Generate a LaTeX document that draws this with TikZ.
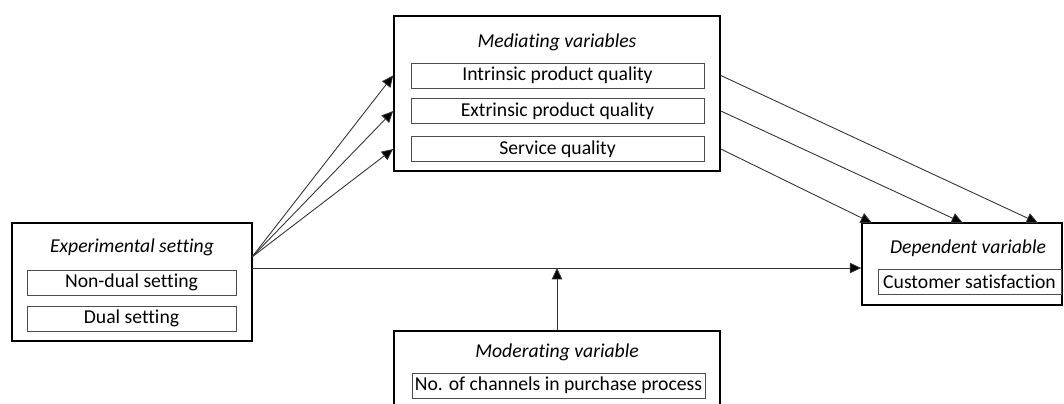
\documentclass[tikz,border=0pt]{standalone}
\usepackage{fontspec}
\setmainfont{Carlito}[Ligatures=NoCommon]
\usetikzlibrary{arrows.meta}

\newdimen\px
\px=0.02cm

\begin{document}
\begin{tikzpicture}[x=\px, y=-\px, font=\fontsize{11.2}{13}\selectfont,
  outerbox/.style={draw=black, line width=0.95pt, inner sep=0pt},
  itembox/.style={draw=black!70, line width=0.55pt, inner sep=0pt, minimum height=25*\px},
  heading/.style={font=\fontsize{11.2}{13}\selectfont\itshape, inner sep=0pt},
  link/.style={draw=black!80, line width=0.5pt, -{Triangle[length=6.5pt,width=6pt,fill=black]}}]

\useasboundingbox (0,0) rectangle (1064,403);
\clip (0,0) rectangle (1064,403);

% Outer boxes
\node[outerbox, minimum width=240*\px, minimum height=118*\px] (exp) at (132,282) {};
\node[outerbox, minimum width=326*\px, minimum height=155*\px] (med) at (557,93.5) {};
\node[outerbox, minimum width=200*\px, minimum height=82*\px] (dep) at (962,264) {};
\node[outerbox, minimum width=326*\px, minimum height=110*\px] (mod) at (557,386) {};

% Headings
\node[heading] (expT) at (132,247) {Experimental setting};
\node[heading] (medT) at (557,42) {Mediating variables};
\node[heading] (depT) at (968,248) {Dependent variable};
\node[heading] (modT) at (557,352) {Moderating variable};

% Items
\node[itembox, minimum width=209*\px] (nondual) at (131.5,282.5) {Non-dual setting};
\node[itembox, minimum width=209*\px] (dual) at (131.5,318.5) {Dual setting};
\node[itembox, minimum width=293*\px] (intr) at (557.5,75.5) {Intrinsic product quality};
\node[itembox, minimum width=293*\px] (extr) at (557.5,111) {Extrinsic product quality};
\node[itembox, minimum width=293*\px] (serv) at (557.5,149) {Service quality};
\node[itembox, minimum width=183*\px] (cust) at (969.5,282) {Customer satisfaction};
\node[itembox, minimum width=293*\px] (chan) at (558.5,385.5) {No. of channels in purchase process};

% Points
\coordinate (fork) at (252,257);
\coordinate (base) at (252,268);
\coordinate (d1) at (1038,223);
\coordinate (d2) at (963,223);
\coordinate (d3) at (872,223);

% Setting to mediators
\draw[link] (fork) -- (intr -| med.west);
\draw[link] (fork) -- (extr -| med.west);
\draw[link] (fork) -- (serv -| med.west);

% Mediators to outcome
\draw[link] (intr -| med.east) -- (d1);
\draw[link] (extr -| med.east) -- (d2);
\draw[link] (serv -| med.east) -- (d3);

% Direct effect and moderator
\draw[link] (base) -- (dep.west |- base);
\draw[link] (mod.north) -- (mod.north |- base);

\end{tikzpicture}
\end{document}
